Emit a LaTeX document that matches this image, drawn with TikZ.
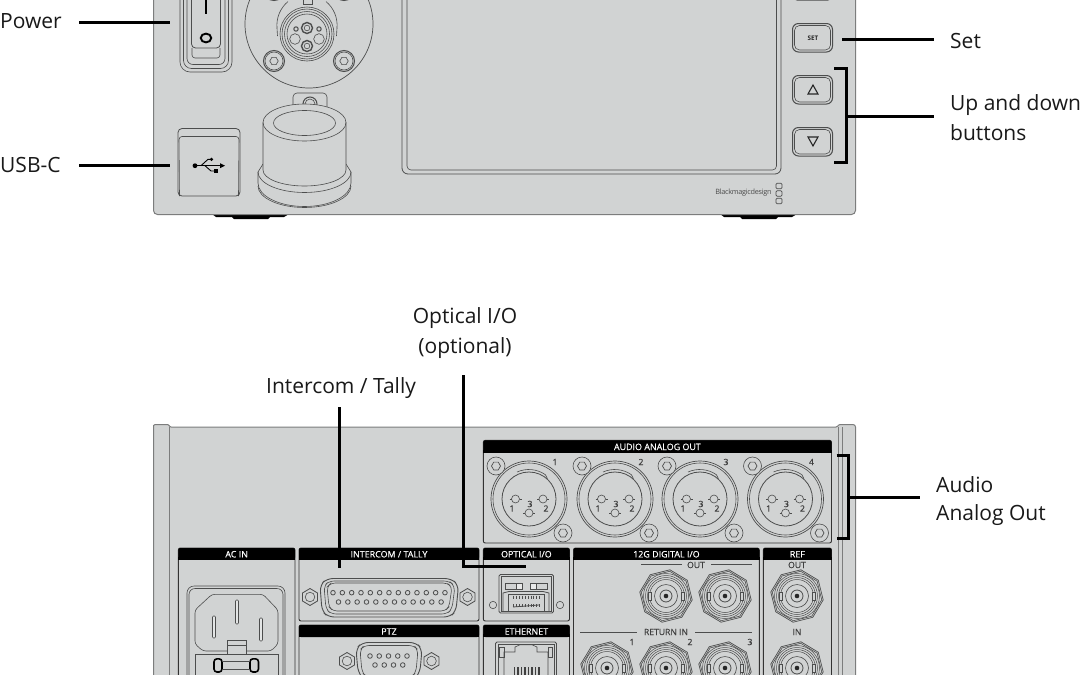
\documentclass[tikz,border=0pt]{standalone}
\usepackage{fontspec}
\setmainfont{Open Sans}
\newfontfamily\hdfont[FakeBold=0.35]{Open Sans}
\definecolor{panelc}{HTML}{D1D3D3}
\definecolor{linec}{HTML}{4C4D4D}
\definecolor{edgec}{HTML}{7C7D7D}
\tikzset{
  thin line/.style={draw=linec,line width=0.6pt},
  edge line/.style={draw=edgec,line width=1pt},
  box line/.style={draw=black!80,line width=0.9pt},
  leader/.style={draw=black,line width=3pt},
  label text/.style={font=\fontsize{21}{25}\selectfont,text=black!90,inner sep=0pt},
  head text/.style={font=\fontsize{8.9}{9}\hdfont,text=white,inner sep=0pt},
  sub text/.style={font=\fontsize{8.6}{9}\hdfont,text=black!75,inner sep=0pt},
}
% panel with a black title strip
\newcommand{\mkpanel}[7]{% name x1 y1 x2 y2 title titlebottom
  \draw[box line,rounded corners=2pt] (#2,#3) rectangle (#4,#5);
  \fill[black,rounded corners=2pt] (#2,#7) -- (#2,#3) -- (#4,#3) -- (#4,#7) -- cycle;
  \fill[black] (#2-0.4,#7-3) rectangle (#4+0.4,#7);
  \node[head text] (#1) at ({(#2+#4)/2},{(#3+#7)/2+0.5}) {#6};
}
\newcommand{\mkscrew}[3]{% x y r
  \draw[thin line,fill=panelc] (#1,#2) circle (#3);
  \draw[thin line,line width=0.7pt] (#1,#2) ++(0:{#3*0.5}) -- ++(120:{#3*0.5}) -- ++(180:{#3*0.5}) -- ++(240:{#3*0.5}) -- ++(300:{#3*0.5}) -- ++(0:{#3*0.5}) -- cycle;
}
\newcommand{\mkpin}[2]{%
  \draw[thin line] (#1,#2) circle (4);
  \draw[thin line] (#1-6,#2) -- (#1-4,#2) (#1+4,#2) -- (#1+6,#2);
}
\newcommand{\mkxlr}[3]{% x y number
  \draw[thin line,line width=0.7pt] (#1,#2) circle (38);
  \draw[thin line] (#1,#2) circle (36);
  \draw[thin line,line width=0.8pt] (#1,#2) circle (27);
  \draw[thin line] (#1-12,#2-27) arc (-114:-55:29) -- ++(2,4);
  \mkscrew{#1-33}{#2-33}{9}
  \mkscrew{#1+34}{#2+34}{9}
  \mkpin{#1-13.5}{#2}
  \mkpin{#1+14}{#2}
  \mkpin{#1}{#2+14}
  \node[sub text] (xn#3) at (#1+26,#2-37) {#3};
  \node[sub text] (xa#3) at (#1-17,#2+9.5) {1};
  \node[sub text] (xb#3) at (#1+17,#2+9.5) {2};
  \node[sub text] (xc#3) at (#1+1,#2+5) {3};
}
\newcommand{\mkbnc}[2]{%
  \begin{scope}[shift={(#1,#2)},rotate=14]
    \draw[thin line,line width=0.7pt] (22.5:26.5) -- (67.5:26.5) -- (112.5:26.5) -- (157.5:26.5) -- (202.5:26.5) -- (247.5:26.5) -- (292.5:26.5) -- (337.5:26.5) -- cycle;
    \draw[thin line] (22.5:25) -- (67.5:25) -- (112.5:25) -- (157.5:25) -- (202.5:25) -- (247.5:25) -- (292.5:25) -- (337.5:25) -- cycle;
  \end{scope}
  \foreach \rr in {22.5,20.5,18.5,16.5}{\draw[thin line,line width=0.5pt] (#1,#2) circle (\rr);}
  \draw[thin line] (#1,#2) circle (11.5);
  \draw[thin line,line width=0.8pt] (#1,#2) circle (6);
  \fill[black!85] (#1,#2) circle (2.3);
  \draw[thin line,fill=panelc] (#1-18,#2-4) rectangle (#1-15,#2+4);
  \draw[thin line,fill=panelc] (#1+15,#2-4) rectangle (#1+18,#2+4);
}
\newcommand{\mknut}[2]{%
  \draw[thin line,line width=0.8pt] (#1,#2-8.5) -- (#1-7.5,#2-4) -- (#1-7.5,#2+4) -- (#1,#2+8.5) -- (#1+7.5,#2+4) -- (#1+7.5,#2-4) -- cycle;
  \draw[thin line] (#1,#2) circle (4.8);
}
\begin{document}
\begin{tikzpicture}[x=1pt,y=-1pt]
\useasboundingbox (0,0) rectangle (1080,675);
\clip (0,0) rectangle (1080,675);
\fill[white] (0,0) rectangle (1080,675);

%% ---------- front panel ----------
\fill[black] (212,214) -- (216,217) -- (232,217) -- (234,219) -- (268,219) -- (270,217) -- (284,217) -- (289,214) -- cycle;
\fill[black] (720,214) -- (724,217) -- (740,217) -- (742,219) -- (776,219) -- (778,217) -- (792,217) -- (797,214) -- cycle;
\draw[edge line,fill=panelc,rounded corners=4pt] (153.5,-10) -- (153.5,214.5) -- (855.5,214.5) -- (855.5,-10) -- cycle;

% screen
\draw[thin line,line width=0.8pt,rounded corners=6pt] (402,-10) -- (402,174) -- (781,174) -- (781,-10);
\draw[thin line,rounded corners=4pt] (407,-10) -- (407,170) -- (776.5,170) -- (776.5,-10);

% power switch
\draw[thin line,rounded corners=10pt] (180,-15) -- (180,72) -- (232,72) -- (232,-15);
\draw[thin line,rounded corners=8pt] (183.5,-15) -- (183.5,68.5) -- (228.5,68.5) -- (228.5,-15);
\draw[thin line,rounded corners=6pt] (187,-15) -- (187,64.5) -- (225,64.5) -- (225,-15);
\draw[thin line,line width=0.8pt,rounded corners=4pt] (191.5,-15) -- (191.5,48) -- (220.5,48) -- (220.5,-15);
\draw[thin line,rounded corners=3pt] (192,48) -- (192,58) -- (220,58) -- (220,48);
\draw[black,line width=2.8pt] (206,-2) -- (206,13.5);
\draw[black,line width=1.9pt] (206,38) ellipse (5.2 and 4.4);

% round connector
\draw[thin line,line width=0.7pt] (309,24) circle (64);
\foreach \sx/\sy in {274/61,344/61,274/-10,344/-10}{
  \draw[thin line,line width=1pt] (\sx,\sy) circle (10.5);
  \draw[thin line] (\sx,\sy) circle (9);
  \draw[thin line] (\sx,\sy) ++(0:4.2) -- ++(120:4.2) -- ++(180:4.2) -- ++(240:4.2) -- ++(300:4.2) -- ++(0:4.2) -- cycle;
}
\draw[thin line] (277,28) arc (175:230:31) (337,28) arc (5:-50:31);
\draw[thin line] (277,28) -- (277.5,36) (337,28) -- (336.5,36);
\draw[thin line] (303,-1) rectangle (312,4);
\foreach \rr in {27,25,22.5,20}{\draw[thin line] (307,34) circle (\rr);}
\draw[thin line,line width=1.4pt] (307,28) circle (5.5);
\draw[thin line] (307,28) circle (2.8);
\draw[thin line,line width=1.4pt] (307,46) circle (5.5);
\draw[thin line] (307,46) circle (2.8);
\draw[thin line,line width=1pt] (296,29) circle (2.2) (319,29) circle (2.2);
\draw[thin line] (295,39) circle (5.3) (319,39) circle (5.3);

% cap
\draw[thin line,rounded corners=4pt] (293,110) -- (293,93) -- (327,93) -- (327,110);
\draw[thin line,line width=1pt] (310,104) circle (7);
\draw[thin line] (310,104) circle (5);
\draw[thin line,fill=panelc] (263,164) -- (258,172) -- (258,183) arc (180:0:46.5 and 23.5) -- (351,172) -- (346,164);
\draw[thin line] (258,186) arc (180:0:46.5 and 21.5);
\draw[thin line] (258,172) arc (180:0:46.5 and 20.5);
\draw[thin line,fill=panelc] (263,170) -- (263,122.5) arc (180:360:41.5 and 18.5) -- (346,170) arc (0:180:41.5 and 16) -- cycle;
\draw[thin line] (263,122.5) arc (180:0:41.5 and 18.5);
\draw[thin line] (304.5,123) ellipse (31 and 12.5);

% usb
\draw[thin line,line width=0.8pt,rounded corners=4pt] (178,128.5) rectangle (240,196);
\draw[thin line,rounded corners=3pt] (179.5,196) -- (179,136.5) -- (239,136.5) -- (238.5,196);
\coordinate (usbL) at (195,165.7);
\coordinate (usbR) at (225,165.7);
\fill[black] (usbL) circle (2.4);
\draw[black,line width=0.9pt] (usbL) -- (222,165.7);
\fill[black] (225,165.7) -- (220,163.2) -- (220,168.2) -- cycle;
\draw[black,line width=0.9pt] (201,165.7) -- (208,159.3) -- (211.5,159.3);
\fill[black] (211.5,159.3) circle (1.8);
\draw[black,line width=0.9pt] (205,165.7) -- (211,171) -- (216,171);
\fill[black] (214,169) rectangle (218,173);

% right buttons
\draw[thin line,line width=1pt,rounded corners=4pt] (793,-8) rectangle (832,0);
\draw[thin line,line width=1pt,rounded corners=6pt] (792.5,23.5) rectangle (832.5,52);
\draw[thin line,rounded corners=5pt] (794.5,25.5) rectangle (830.5,50);
\node[font=\fontsize{6.3}{7}\selectfont\bfseries,text=black!85,inner sep=0pt] (setlbl) at (813,38) {SET};
\draw[thin line,line width=1pt,rounded corners=6pt] (792.5,75.5) rectangle (832.5,104);
\draw[thin line,rounded corners=5pt] (794.5,77.5) rectangle (830.5,102);
\draw[black!85,line width=1.1pt] (813,85) -- (818,94) -- (808,94) -- cycle;
\draw[thin line,line width=1pt,rounded corners=6pt] (792.5,127.5) rectangle (832.5,156);
\draw[thin line,rounded corners=5pt] (794.5,129.5) rectangle (830.5,154);
\draw[black!85,line width=1.1pt] (813,146) -- (818,137) -- (808,137) -- cycle;

% logo
\node[font=\fontsize{7.3}{8}\selectfont,text=black!70,inner sep=0pt] (logo) at (743.5,192.5) {\addfontfeature{LetterSpace=-4}Blackmagicdesign};
\foreach \ly in {186,193.5,201}{\draw[black!70,line width=0.7pt,rounded corners=1.2pt] (776,\ly-2.8) rectangle (782,\ly+2.8);}

%% ---------- rear panel ----------
\draw[edge line,fill=panelc] (153.5,685) -- (153.5,426) [rounded corners=1pt] -- (154,424.5) -- (168.5,424.5) -- (170,427) -- (837,427) -- (839,424.5) -- (854,424.5) -- (855.5,426) -- (855.5,685) -- cycle;
\draw[edge line,line width=0.7pt] (169.5,427) -- (169.5,685);
\draw[edge line] (838,427) -- (838,685);
\draw[edge line,line width=0.7pt] (842,427) -- (842,685);

% audio panel
\mkpanel{hAudio}{483.3}{440.3}{831.5}{543}{AUDIO ANALOG OUT}{452.5}
\mkxlr{529}{499}{1}
\mkxlr{615}{499}{2}
\mkxlr{700}{499}{3}
\mkxlr{785.5}{499}{4}

% row panels
\mkpanel{hAc}{178.3}{548}{295}{690}{AC IN}{559.5}
\mkpanel{hInt}{299}{548}{479}{621}{INTERCOM / TALLY}{559.5}
\mkpanel{hPtz}{299}{625}{479}{690}{PTZ}{637}
\mkpanel{hOpt}{483.3}{548}{569.5}{621}{OPTICAL I/O}{559.5}
\mkpanel{hEth}{483.3}{625}{569.5}{690}{ETHERNET}{637}
\mkpanel{hDig}{573.5}{548}{759.3}{690}{12G DIGITAL I/O}{559.5}
\mkpanel{hRef}{763.3}{548}{831.5}{690}{REF}{559.5}

% AC in
\draw[thin line,rounded corners=7pt] (187,690) -- (187,586) -- (285,586) -- (285,690);
\draw[thin line,rounded corners=6pt] (189,690) -- (189,588.5) -- (283,588.5) -- (283,690);
\draw[thin line,rounded corners=3pt] (195,610) -- (212,594.3) -- (263,594.3) -- (278,610) -- (278,644) -- (271,651) -- (203,651) -- (195,644) -- cycle;
\draw[thin line,fill=panelc!60,rounded corners=1pt] (235.5,600) rectangle (238.5,624);
\draw[thin line,fill=panelc!60,rounded corners=1pt] (212.5,616) rectangle (215.5,638);
\draw[thin line,fill=panelc!60,rounded corners=1pt] (259.5,618) rectangle (262.5,641);
\draw[thin line,fill=panelc] (227,654) -- (227,640) -- (246,640) -- (246,654);
\draw[thin line] (227,645) -- (246,645);
\draw[thin line] (195,690) -- (195,654) -- (278,654) -- (278,690);
\draw[black,line width=1.6pt,rounded corners=3pt] (214,658.8) rectangle (222,672);
\draw[black,line width=1.6pt,rounded corners=3pt] (250,658.8) rectangle (258.5,672);
\draw[thin line,line width=0.9pt] (222,661.5) -- (250,661.5) (222,669.5) -- (250,669.5);

% d-sub 25
\draw[thin line,line width=0.9pt,rounded corners=6pt] (320,585) -- (327,578.5) -- (451,578.5) -- (458.5,585) -- (456,611) -- (450,617) -- (328,617) -- (322,611) -- cycle;
\draw[thin line,rounded corners=5pt] (324,586) -- (329,581) -- (449,581) -- (455,586) -- (452,609) -- (447,614) -- (331,614) -- (326,609) -- cycle;
\draw[thin line,rounded corners=4pt] (327,587) -- (331,583) -- (447,583) -- (452,587) -- (449,607) -- (445,611) -- (333,611) -- (329,607) -- cycle;
\mknut{310}{597}
\mknut{467.5}{597}
\foreach \pp in {0,...,12}{\draw[thin line,line width=0.8pt] ({333+\pp*9.33},592.7) circle (2.3);}
\foreach \pp in {0,...,11}{\draw[thin line,line width=0.8pt] ({338.5+\pp*9.33},602) circle (2.3);}

% d-sub 9
\draw[thin line,line width=0.9pt,rounded corners=6pt] (356,649) -- (362,642.5) -- (416,642.5) -- (422,649) -- (420,672) -- (414,680) -- (364,680) -- (358,672) -- cycle;
\draw[thin line,rounded corners=5pt] (360,650) -- (364,645.5) -- (414,645.5) -- (418,650) -- (416,672) -- (412,677) -- (366,677) -- (362,672) -- cycle;
\mknut{347}{661}
\mknut{431.5}{661}
\foreach \pp in {0,...,4}{\draw[thin line,line width=0.8pt] ({370+\pp*9.25},656) circle (2.3);}
\foreach \pp in {0,...,3}{\draw[thin line,line width=0.8pt] ({375+\pp*9.25},665) circle (2.3);}

% optical
\draw[thin line,line width=0.9pt,rounded corners=1.5pt] (499,574.5) rectangle (553.5,613);
\draw[thin line] (501,576.5) rectangle (551.5,611);
\draw[thin line] (493,605) circle (3.7) (560,605) circle (3.7);
\draw[thin line] (505,583.5) rectangle (522,589.5);
\draw[thin line] (530,583.5) rectangle (547,589.5);
\draw[thin line,fill=panelc!50] (516,583.5) rectangle (522,589.5);
\draw[thin line,fill=panelc!50] (530,583.5) rectangle (536,589.5);
\draw[thin line,line width=0.8pt] (503,611) -- (503,593) -- (509,591.5) -- (543,591.5) -- (549,593) -- (549,611);
\draw[thin line] (508,611) -- (508,594) -- (544,594) -- (544,611);
\foreach \pp in {0,...,9}{\draw[black!70,line width=0.7pt] ({513.5+\pp*2.9},595.5) -- ({513.5+\pp*2.9},598.5);}
\foreach \pp in {0,...,9}{\draw[black!70,line width=0.7pt] ({513.5+\pp*2.9},604) -- ({513.5+\pp*2.9},606.5);}
\draw[thin line,line width=0.8pt] (513,607) -- (539,605);

% ethernet
\draw[thin line,line width=0.9pt,rounded corners=1.5pt] (495.5,685) -- (495.5,642) -- (556.5,642) -- (556.5,685);
\draw[thin line] (498,685) -- (498,644.5) -- (554,644.5) -- (554,685);
\draw[thin line] (499.5,647) rectangle (504,657);
\draw[thin line] (548,647) rectangle (552.5,657);
\draw[thin line] (504,685) -- (504,652) -- (515,652) -- (515,647) -- (520,644.8) -- (532,644.8) -- (537,647) -- (537,652) -- (548,652) -- (548,685);
\foreach \pp in {0,...,7}{\fill[black!75] ({513.5+\pp*3.5},667) rectangle ({515.3+\pp*3.5},680);}

% BNC
\mkbnc{666}{596}
\mkbnc{725}{596}
\mkbnc{797}{596}
\mkbnc{607}{668}
\mkbnc{666}{668}
\mkbnc{725}{668}
\mkbnc{797}{668}
\node[sub text] (tOut) at (696,565) {OUT};
\draw[thin line,line width=0.8pt] (641,564.5) -- (682,564.5) (711,564.5) -- (752,564.5);
\node[sub text] (tRet) at (666,632) {RETURN IN};
\draw[thin line,line width=0.8pt] (580,632) -- (637,632) (695,632) -- (752,632);
\node[sub text] (tOne) at (632,642) {1};
\node[sub text] (tTwo) at (690,642) {2};
\node[sub text] (tThr) at (750,642) {3};
\node[sub text] (tRefO) at (797,565) {OUT};
\node[sub text] (tRefI) at (797,632) {IN};

%% ---------- leaders and labels ----------
\node[label text,anchor=west] (lPower) at (0,21) {Power};
\node[label text,anchor=west] (lUsb) at (0,165) {USB-C};
\node[label text,anchor=west] (lSet) at (950,40.5) {Set};
\node[label text,anchor=west] (lUp) at (950,105) {Up and down};
\node[label text,anchor=west] (lBtn) at (950,133) {buttons};
\node[label text] (lOpt) at (465,318) {Optical I/O};
\node[label text] (lOpt2) at (465,348) {(optional)};
\node[label text,anchor=west] (lInt) at (266,388) {Intercom / Tally};
\node[label text,anchor=west] (lAud) at (936,484.5) {Audio};
\node[label text,anchor=west] (lAud2) at (936,515.5) {Analog Out};

\coordinate (pwrA) at (79,22);   \coordinate (pwrB) at (170,22);
\coordinate (usbA) at (79,165.5);\coordinate (usbB) at (170,165.5);
\coordinate (setA) at (842,39);  \coordinate (setB) at (934,39);
\coordinate (upT) at (834,68.5); \coordinate (upTc) at (846,68.5);
\coordinate (upB) at (834,162.5);\coordinate (upBc) at (846,162.5);
\coordinate (upM) at (846,116);  \coordinate (upE) at (934,116);
\coordinate (audT) at (836.5,455.5); \coordinate (audTc) at (848,455.5);
\coordinate (audB) at (836.5,538.5); \coordinate (audBc) at (848,538.5);
\coordinate (audM) at (848,497.5);   \coordinate (audE) at (920,497.5);
\coordinate (intA) at (339.5,407);   \coordinate (intB) at (339.5,568);
\coordinate (optA) at (463.5,375);   \coordinate (optC) at (463.5,566.7);
\coordinate (optB) at (526,566.7);

\draw[leader] (pwrA) -- (pwrB);
\draw[leader] (usbA) -- (usbB);
\draw[leader] (setA) -- (setB);
\draw[leader] (upT) -- (upTc) -- (upBc) -- (upB);
\draw[leader] (upM) -- (upE);
\draw[leader] (audT) -- (audTc) -- (audBc) -- (audB);
\draw[leader] (audM) -- (audE);
\draw[leader] (intA) -- (intB);
\draw[leader] (optA) -- (optC) -- (optB);
\end{tikzpicture}
\end{document}
